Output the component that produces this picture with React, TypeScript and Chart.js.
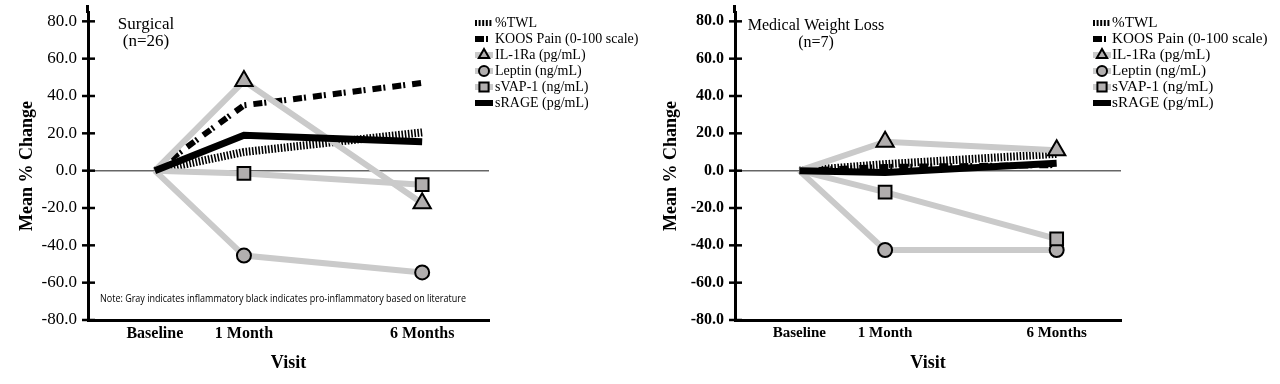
import React, { useEffect, useRef } from "react";
import { Chart, registerables } from "chart.js";

Chart.register(...registerables);

// ---------- data ----------
const visitLabels = ["Baseline", "1 Month", "6 Months"];
const visitPositions = [0, 1, 3];

const seriesNames = [
  "%TWL",
  "KOOS Pain (0-100 scale)",
  "IL-1Ra (pg/mL)",
  "Leptin (ng/mL)",
  "sVAP-1 (ng/mL)",
  "sRAGE (pg/mL)",
];

const surgicalTWL = [0, 10, 20.5];
const surgicalKOOS = [0, 35, 47];
const surgicalIL1Ra = [0, 48, -17.5];
const surgicalLeptin = [0, -45.5, -54.5];
const surgicalSVAP1 = [0, -1.5, -7.5];
const surgicalSRAGE = [0, 19, 15.5];

const medicalTWL = [0, 3.5, 9];
const medicalKOOS = [0, 2, 3];
const medicalIL1Ra = [0, 15.5, 11];
const medicalLeptin = [0, -42.5, -42.5];
const medicalSVAP1 = [0, -11.5, -36.5];
const medicalSRAGE = [0, -1, 4];

const surgicalTitle = ["Surgical", "(n=26)"];
const medicalTitle = ["Medical Weight Loss", "(n=7)"];
const noteText =
  "Note: Gray indicates inflammatory black indicates pro-inflammatory based on literature";
const yAxisTitle = "Mean % Change";
const xAxisTitle = "Visit";

// ---------- styles ----------
const GRAY_LINE = "#cacaca";
const MARKER_FILL = "#b1aeae";
const SERIF = '"Liberation Serif", "Times New Roman", serif';

type Style = {
  color: string;
  width: number;
  dash: number[];
  pointStyle?: string;
  radius?: number;
  legendRadius?: number;
};

const seriesStyles: Style[] = [
  { color: "#000", width: 8, dash: [1.6, 1.6] },
  { color: "#000", width: 6, dash: [9, 2, 2, 7] },
  { color: GRAY_LINE, width: 6, dash: [], pointStyle: "triangle", radius: 10, legendRadius: 6 },
  { color: GRAY_LINE, width: 6, dash: [], pointStyle: "circle", radius: 7, legendRadius: 5 },
  { color: GRAY_LINE, width: 6, dash: [], pointStyle: "rect", radius: 9, legendRadius: 6.5 },
  { color: "#000", width: 7, dash: [] },
];

function drawMarker(ctx: CanvasRenderingContext2D, style: string, x: number, y: number, r: number) {
  ctx.beginPath();
  if (style === "triangle") {
    ctx.moveTo(x, y - r);
    ctx.lineTo(x + r * Math.sin(Math.PI / 3), y + r / 2);
    ctx.lineTo(x - r * Math.sin(Math.PI / 3), y + r / 2);
    ctx.closePath();
  } else if (style === "circle") {
    ctx.arc(x, y, r, 0, Math.PI * 2);
  } else {
    const s = Math.SQRT1_2 * r;
    ctx.rect(x - s, y - s, 2 * s, 2 * s);
  }
  ctx.fillStyle = MARKER_FILL;
  ctx.fill();
  ctx.lineWidth = 2;
  ctx.strokeStyle = "#000";
  ctx.stroke();
}

const decorPlugin = {
  id: "decor",
  afterDraw(chart: any, _args: any, opts: any) {
    const ctx: CanvasRenderingContext2D = chart.ctx;
    const yScale = chart.scales.y;
    const area = chart.chartArea;
    ctx.save();
    // extend the y axis line upward a little
    ctx.strokeStyle = "#000";
    ctx.lineWidth = 3;
    ctx.beginPath();
    ctx.moveTo(area.left - 0.5, 5);
    ctx.lineTo(area.left - 0.5, area.top + 1);
    ctx.stroke();
    // crossing tick marks on y axis
    ctx.lineWidth = 2.5;
    yScale.ticks.forEach((t: any) => {
      const py = yScale.getPixelForValue(t.value);
      ctx.beginPath();
      ctx.moveTo(area.left - 6, py);
      ctx.lineTo(area.left + 7, py);
      ctx.stroke();
    });
    // title
    ctx.fillStyle = "#000";
    ctx.textAlign = "center";
    ctx.textBaseline = "middle";
    ctx.font = `${opts.titleSize}px ${SERIF}`;
    (opts.title as string[]).forEach((line, i) => {
      ctx.fillText(line, opts.titleX, opts.titleY + i * 17);
    });
    // note
    if (opts.note) {
      ctx.textAlign = "left";
      ctx.font = '10px "Open Sans", "Liberation Sans", sans-serif';
      ctx.fillText(opts.note, opts.noteX, opts.noteY, opts.noteWidth);
    }
    // legend
    ctx.font = `${opts.legendSize}px ${SERIF}`;
    ctx.textAlign = "left";
    chart.data.datasets.forEach((ds: any, i: number) => {
      const st = seriesStyles[i];
      const ly = opts.legendY + i * opts.legendStep;
      const sx = opts.legendX;
      ctx.save();
      ctx.strokeStyle = st.color;
      ctx.lineWidth = Math.min(st.width, 6);
      ctx.setLineDash(i === 0 ? [2, 1.6] : st.dash);
      ctx.beginPath();
      ctx.moveTo(sx, ly);
      ctx.lineTo(sx + 18, ly);
      ctx.stroke();
      ctx.setLineDash([]);
      if (st.pointStyle) drawMarker(ctx, st.pointStyle, sx + 9, ly, st.legendRadius || 5);
      ctx.restore();
      ctx.fillStyle = "#000";
      ctx.fillText(ds.label, opts.legendTextX, ly + 0.5);
    });
    ctx.restore();
  },
};

type PanelCfg = {
  values: number[][];
  title: string[];
  titleX: number;
  titleY: number;
  titleSize: number;
  note?: string;
  yWidth: number;
  rightPad: number;
  yTickBold: boolean;
  yTickSize: number;
  yTitlePad: number;
  xTickSize: number;
  legendX: number;
  legendTextX: number;
  legendSize: number;
};

function Panel({ cfg }: { cfg: PanelCfg }) {
  const ref = useRef<HTMLCanvasElement | null>(null);
  useEffect(() => {
    if (!ref.current) return;
    const datasets = cfg.values.map((vals, i) => {
      const st = seriesStyles[i];
      const r = st.radius || 0;
      return {
        label: seriesNames[i],
        data: vals.map((v, k) => ({ x: visitPositions[k], y: v })),
        borderColor: st.color,
        borderWidth: st.width,
        borderDash: st.dash,
        borderCapStyle: "butt",
        borderJoinStyle: "miter",
        tension: 0,
        pointStyle: st.pointStyle || "circle",
        pointRadius: vals.map((_, k) => (k === 0 ? 0 : r)),
        pointBackgroundColor: MARKER_FILL,
        pointBorderColor: "#000",
        pointBorderWidth: 2,
        order: seriesNames.length - i,
      };
    });
    const chart = new Chart(ref.current, {
      type: "line",
      data: { datasets: datasets as any },
      options: {
        animation: false,
        responsive: false,
        events: [],
        layout: { padding: { top: 0, right: cfg.rightPad, bottom: 0, left: 0 } },
        plugins: {
          legend: { display: false },
          tooltip: { enabled: false },
          decor: {
            title: cfg.title,
            titleX: cfg.titleX,
            titleY: cfg.titleY,
            titleSize: cfg.titleSize,
            note: cfg.note,
            noteX: 100,
            noteY: 299,
            noteWidth: 366,
            legendX: cfg.legendX,
            legendTextX: cfg.legendTextX,
            legendY: 23,
            legendStep: 16,
            legendSize: cfg.legendSize,
          },
        } as any,
        scales: {
          x: {
            type: "linear",
            min: -0.75,
            max: 3.75,
            afterFit: (s: any) => {
              s.height = 64;
              s.paddingLeft = 0;
              s.paddingRight = 0;
            },
            afterBuildTicks: (s: any) => {
              s.ticks = visitPositions.map((v) => ({ value: v }));
            },
            ticks: {
              padding: 4,
              color: "#000",
              maxRotation: 0,
              autoSkip: false,
              font: { family: SERIF, size: cfg.xTickSize, weight: "bold" },
              callback: (v: any) => {
                const idx = visitPositions.indexOf(Number(v));
                return idx >= 0 ? visitLabels[idx] : "";
              },
            },
            grid: { display: false, drawTicks: false },
            border: { display: true, color: "#000", width: 3 },
            title: {
              display: true,
              text: xAxisTitle,
              color: "#000",
              font: { family: SERIF, size: 18, weight: "bold" },
              padding: { top: 0, bottom: 10 },
            },
          },
          y: {
            type: "linear",
            min: -80,
            max: 85,
            afterFit: (s: any) => {
              s.width = cfg.yWidth;
              s.paddingTop = 0;
              s.paddingBottom = 0;
            },
            ticks: {
              stepSize: 20,
              includeBounds: false,
              padding: 11,
              color: "#000",
              font: { family: SERIF, size: cfg.yTickSize, weight: cfg.yTickBold ? "bold" : "normal" },
              callback: (v: any) => Number(v).toFixed(1),
            },
            grid: {
              drawTicks: false,
              color: (c: any) => (c.tick && c.tick.value === 0 ? "#666" : "rgba(0,0,0,0)"),
              lineWidth: 1.5,
            },
            border: { display: true, color: "#000", width: 3 },
            title: {
              display: true,
              text: yAxisTitle,
              color: "#000",
              font: { family: SERIF, size: 18, weight: "bold" },
              padding: { top: cfg.yTitlePad, bottom: 0 },
            },
          },
        },
      } as any,
      plugins: [decorPlugin as any],
    });
    return () => chart.destroy();
  }, [cfg]);
  return <canvas ref={ref} width={640} height={384} style={{ display: "block" }} />;
}

const surgicalCfg: PanelCfg = {
  values: [surgicalTWL, surgicalKOOS, surgicalIL1Ra, surgicalLeptin, surgicalSVAP1, surgicalSRAGE],
  title: surgicalTitle,
  titleX: 146,
  titleY: 25,
  titleSize: 17,
  note: noteText,
  yWidth: 88,
  rightPad: 151,
  yTickBold: false,
  yTickSize: 17,
  yTitlePad: 17,
  xTickSize: 16,
  legendX: 475,
  legendTextX: 495,
  legendSize: 14,
};

const medicalCfg: PanelCfg = {
  values: [medicalTWL, medicalKOOS, medicalIL1Ra, medicalLeptin, medicalSVAP1, medicalSRAGE],
  title: medicalTitle,
  titleX: 176,
  titleY: 26,
  titleSize: 16,
  yWidth: 95,
  rightPad: 159,
  yTickBold: true,
  yTickSize: 16,
  yTitlePad: 21,
  xTickSize: 15,
  legendX: 453,
  legendTextX: 472,
  legendSize: 15.2,
};

export default function App() {
  return (
    <div
      style={{
        position: "fixed",
        left: 0,
        top: 0,
        width: 1280,
        height: 384,
        display: "flex",
        background: "#fff",
      }}
    >
      <Panel cfg={surgicalCfg} />
      <Panel cfg={medicalCfg} />
    </div>
  );
}
